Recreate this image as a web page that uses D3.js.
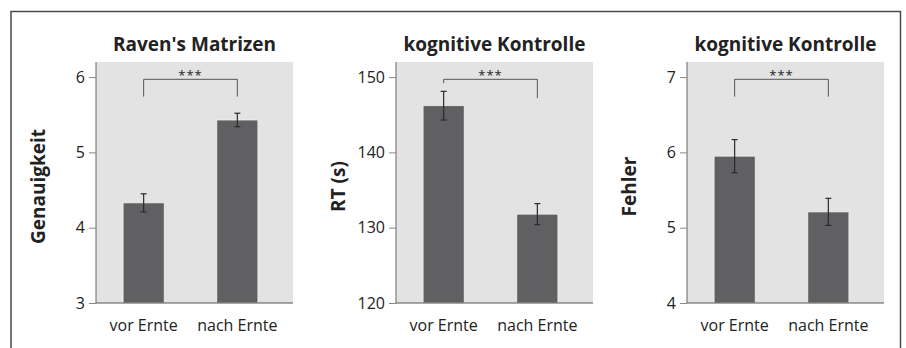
<!DOCTYPE html>
<html>
<head>
<meta charset="utf-8">
<script src="https://cdn.jsdelivr.net/npm/d3@7"></script>
<style>
  body { margin: 0; background: #fff; }
  text { font-family: "Open Sans", sans-serif; fill: #222; }
</style>
</head>
<body>
<div id="chart"></div>
<script>
// Daten
const groups = ["vor Ernte", "nach Ernte"];
const titles = ["Raven's Matrizen", "kognitive Kontrolle", "kognitive Kontrolle"];
const yLabels = ["Genauigkeit", "RT (s)", "Fehler"];

const ravenMeans = [4.33, 5.43];
const ravenErr = [0.12, 0.09];
const rtMeans = [146.2, 131.8];
const rtErr = [1.9, 1.4];
const fehlerMeans = [5.95, 5.21];
const fehlerErr = [0.22, 0.18];

const domains = [[3, 6.2], [120, 152], [4, 7.2]];
const tickValues = [[3, 4, 5, 6], [120, 130, 140, 150], [4, 5, 6, 7]];
// Klammer: Hoehe, linkes Bein, rechtes Bein (in Datenwerten)
const brackets = [[5.97, 5.74, 5.74], [149.7, 149.2, 147.2], [6.97, 6.74, 6.74]];

const means = [ravenMeans, rtMeans, fehlerMeans];
const errs = [ravenErr, rtErr, fehlerErr];

const width = 906;
const height = 348;
const panelX = [96, 396, 687];
const plotTop = 62, plotBottom = 303, plotW = 197;

const svg = d3.select("#chart")
    .append("svg")
    .attr("width", width)
    .attr("height", height);

// Rahmen
svg.append("path")
    .attr("d", "M11,360V11.5H900.5V360")
    .attr("fill", "none")
    .attr("stroke", "#4a4a4a")
    .attr("stroke-width", 1.5);

function drawPanel(i) {
    const g = svg.append("g")
        .attr("transform", "translate(" + panelX[i] + ",0)");

    const y = d3.scaleLinear()
        .domain(domains[i])
        .range([plotBottom, plotTop]);

    const x = d3.scaleBand()
        .domain(groups)
        .range([0, 189])
        .paddingInner(0.561)
        .paddingOuter(0.289);

    // Hintergrund
    g.append("rect")
        .attr("x", 0)
        .attr("y", plotTop)
        .attr("width", plotW)
        .attr("height", plotBottom - plotTop)
        .attr("fill", "#e3e3e4");

    // Saeulen
    g.selectAll(".bar")
        .data(groups)
        .enter()
        .append("rect")
        .attr("class", "bar")
        .attr("x", d => x(d))
        .attr("y", (d, j) => y(means[i][j]))
        .attr("width", x.bandwidth())
        .attr("height", (d, j) => plotBottom - y(means[i][j]))
        .attr("fill", "#606062")
        .attr("stroke", "#f2f2f2")
        .attr("stroke-width", 0.8);

    // Fehlerbalken
    const eb = g.selectAll(".err")
        .data(groups)
        .enter()
        .append("g")
        .attr("class", "err")
        .attr("stroke", "#2a2a2a")
        .attr("stroke-width", 1.2);
    eb.append("line")
        .attr("x1", d => x(d) + x.bandwidth() / 2)
        .attr("x2", d => x(d) + x.bandwidth() / 2)
        .attr("y1", (d, j) => y(means[i][j] - errs[i][j]))
        .attr("y2", (d, j) => y(means[i][j] + errs[i][j]));
    eb.append("line")
        .attr("x1", d => x(d) + x.bandwidth() / 2 - 3)
        .attr("x2", d => x(d) + x.bandwidth() / 2 + 3)
        .attr("y1", (d, j) => y(means[i][j] + errs[i][j]))
        .attr("y2", (d, j) => y(means[i][j] + errs[i][j]));
    eb.append("line")
        .attr("x1", d => x(d) + x.bandwidth() / 2 - 3)
        .attr("x2", d => x(d) + x.bandwidth() / 2 + 3)
        .attr("y1", (d, j) => y(means[i][j] - errs[i][j]))
        .attr("y2", (d, j) => y(means[i][j] - errs[i][j]));

    // Signifikanzklammer
    const cx0 = x(groups[0]) + x.bandwidth() / 2;
    const cx1 = x(groups[1]) + x.bandwidth() / 2;
    const b = brackets[i];
    g.append("path")
        .attr("d", "M" + cx0 + "," + y(b[1]) + "V" + y(b[0]) + "H" + cx1 + "V" + y(b[2]))
        .attr("fill", "none")
        .attr("stroke", "#555")
        .attr("stroke-width", 1);
    g.append("text")
        .attr("x", (cx0 + cx1) / 2)
        .attr("y", y(b[0]) + 1)
        .attr("text-anchor", "middle")
        .style("font-size", "13px")
        .style("letter-spacing", "1px")
        .text("***");

    // Y Achse
    const yAxis = g.append("g")
        .call(d3.axisLeft(y).tickValues(tickValues[i]).tickFormat(d3.format("d")).tickSize(7).tickPadding(4));
    yAxis.select(".domain").attr("d", "M0," + plotTop + "V" + plotBottom).attr("stroke", "#666");
    yAxis.selectAll(".tick line").attr("stroke", "#888");
    yAxis.selectAll("text")
        .style("font-size", "16px")
        .style("font-family", "'Open Sans', sans-serif")
        .attr("fill", "#222");

    // X Achse
    g.append("line")
        .attr("x1", 0).attr("x2", plotW)
        .attr("y1", plotBottom).attr("y2", plotBottom)
        .attr("stroke", "#555")
        .attr("stroke-width", 1.2);
    g.selectAll(".xlab")
        .data(groups)
        .enter()
        .append("text")
        .attr("class", "xlab")
        .attr("x", d => x(d) + x.bandwidth() / 2)
        .attr("y", 331)
        .attr("text-anchor", "middle")
        .style("font-size", "16px")
        .text(d => d);

    // Titel
    g.append("text")
        .attr("x", plotW / 2)
        .attr("y", 51)
        .attr("text-anchor", "middle")
        .style("font-size", "19px")
        .style("font-weight", "bold")
        .text(titles[i]);

    // Y Beschriftung
    g.append("text")
        .attr("transform", "translate(-51," + ((plotTop + plotBottom) / 2 + 4) + ")rotate(-90)")
        .attr("text-anchor", "middle")
        .style("font-size", "19px")
        .style("font-weight", "bold")
        .text(yLabels[i]);
}

[0, 1, 2].forEach(drawPanel);
</script>
</body>
</html>
